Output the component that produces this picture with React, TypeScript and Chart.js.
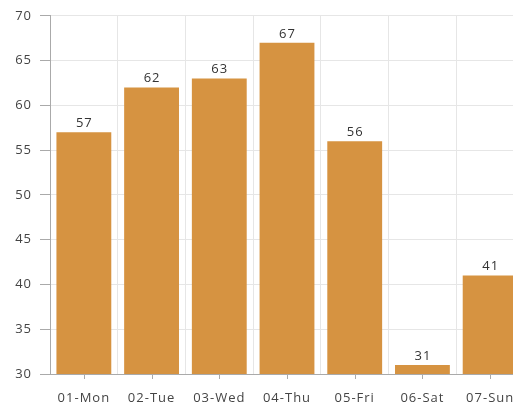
import React, { useEffect, useRef } from "react";
import { Chart, registerables } from "chart.js";

Chart.register(...registerables);

const categories = ["01-Mon", "02-Tue", "03-Wed", "04-Thu", "05-Fri", "06-Sat", "07-Sun"];
const values = [57, 62, 63, 67, 56, 31, 41];
const yMin = 30;
const yMax = 70;
const yStep = 5;

const FONT = "'Open Sans', sans-serif";
const SPACING = "1px";

const spacingPlugin = {
  id: "spacing",
  beforeLayout(chart: any) {
    chart.ctx.letterSpacing = SPACING;
  },
  beforeDraw(chart: any) {
    chart.ctx.letterSpacing = SPACING;
  },
};

const valueLabels = {
  id: "valueLabels",
  afterDatasetsDraw(chart: any) {
    const ctx = chart.ctx;
    const meta = chart.getDatasetMeta(0);
    ctx.save();
    ctx.letterSpacing = SPACING;
    ctx.font = `13px ${FONT}`;
    ctx.fillStyle = "#333";
    ctx.textAlign = "center";
    ctx.textBaseline = "alphabetic";
    meta.data.forEach((bar: any, i: number) => {
      ctx.fillText(String(values[i]), bar.x + 0.5, bar.y - 5);
    });
    ctx.restore();
  },
};

const centerTicks = {
  id: "centerTicks",
  afterDraw(chart: any) {
    const ctx = chart.ctx;
    const xs = chart.scales.x;
    const bottom = chart.chartArea.bottom;
    ctx.save();
    ctx.strokeStyle = "#aaaaaa";
    ctx.lineWidth = 1;
    ctx.beginPath();
    categories.forEach((_, i) => {
      const x = Math.round(xs.getPixelForValue(i)) + 0.5;
      ctx.moveTo(x, bottom);
      ctx.lineTo(x, bottom + 5);
    });
    ctx.stroke();
    ctx.restore();
  },
};

export default function App() {
  const ref = useRef<HTMLCanvasElement>(null);
  useEffect(() => {
    const chart = new Chart(ref.current!, {
      type: "bar",
      data: {
        labels: categories,
        datasets: [
          {
            data: values,
            backgroundColor: "#d69341",
            borderWidth: 0,
            barPercentage: 0.9,
            categoryPercentage: 0.9,
          },
        ],
      },
      options: {
        responsive: false,
        animation: false,
        layout: { padding: { top: 14.5, right: 16, bottom: 0, left: 0 } },
        plugins: { legend: { display: false }, tooltip: { enabled: false } },
        scales: {
          x: {
            grid: { color: "#e6e6e6", drawTicks: false, offset: true },
            border: { color: "#aaaaaa" },
            ticks: { font: { family: FONT, size: 13 }, color: "#444", padding: 16, maxRotation: 0 },
            afterFit: (s: any) => { s.height = 34; },
          },
          y: {
            min: yMin,
            max: yMax,
            ticks: { stepSize: yStep, font: { family: FONT, size: 13 }, color: "#444", padding: 8 },
            grid: { color: "#e6e6e6", tickColor: "#aaaaaa", tickLength: 10 },
            border: { color: "#aaaaaa" },
            afterFit: (s: any) => { s.width = 50; },
          },
        },
      },
      plugins: [spacingPlugin, valueLabels, centerTicks],
    });
    return () => chart.destroy();
  }, []);
  return (
    <div style={{ position: "fixed", left: 0, top: 0, width: 513, height: 408, overflow: "hidden", background: "#fff" }}>
      <canvas ref={ref} width={540} height={408} style={{ display: "block" }} />
    </div>
  );
}
